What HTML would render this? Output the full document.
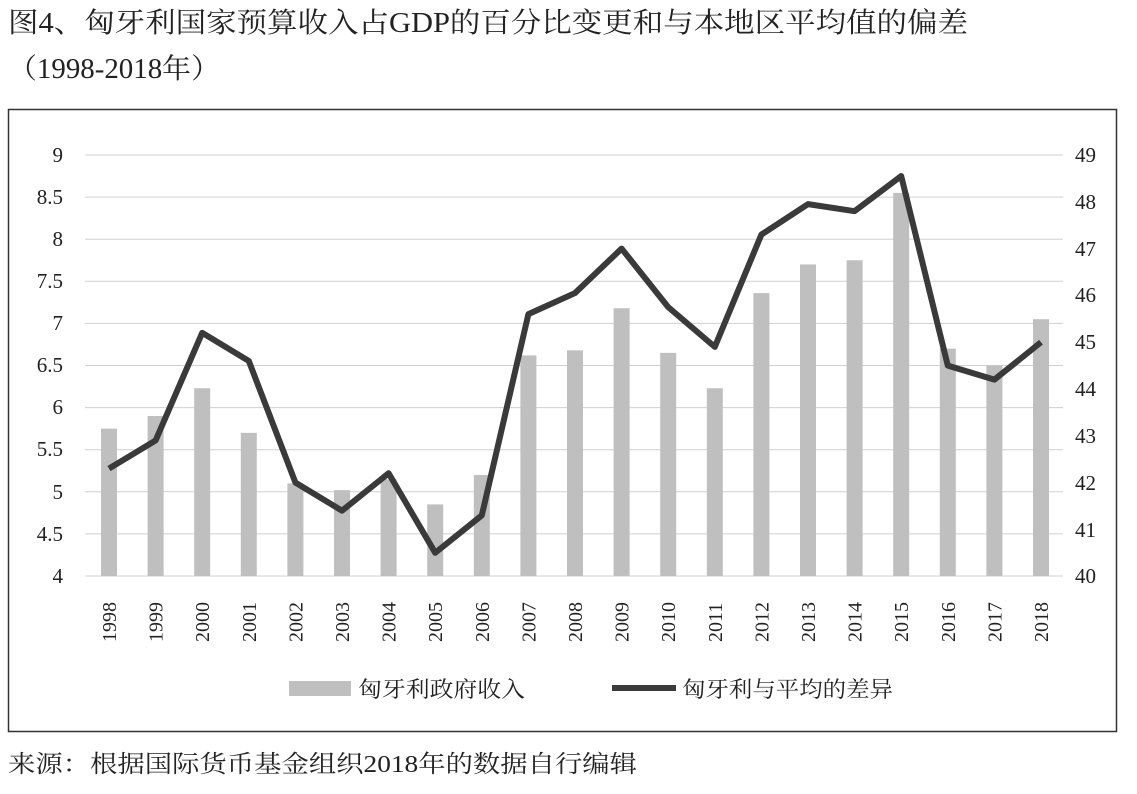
<!DOCTYPE html>
<html><head><meta charset="utf-8"><style>
html,body{margin:0;padding:0;background:#fff;}
svg{display:block;font-family:"Liberation Serif","Noto Serif CJK SC",serif;}
</style></head><body>
<svg width="1137" height="794" viewBox="0 0 1137 794" xmlns="http://www.w3.org/2000/svg">
<text x="8" y="32" font-size="28" fill="#222" textLength="960" lengthAdjust="spacingAndGlyphs">图4、匈牙利国家预算收入占GDP的百分比变更和与本地区平均值的偏差</text>
<text x="8" y="78" font-size="28" fill="#222" textLength="212" lengthAdjust="spacingAndGlyphs">（1998-2018年）</text>
<rect x="8.5" y="109.5" width="1108" height="622" fill="#fff" stroke="#333" stroke-width="1.5"/>
<g stroke="#d0d0d0" stroke-width="1">
<line x1="85" x2="1063" y1="155" y2="155"/><line x1="85" x2="1063" y1="197.1" y2="197.1"/>
<line x1="85" x2="1063" y1="239.2" y2="239.2"/><line x1="85" x2="1063" y1="281.3" y2="281.3"/>
<line x1="85" x2="1063" y1="323.4" y2="323.4"/><line x1="85" x2="1063" y1="365.5" y2="365.5"/>
<line x1="85" x2="1063" y1="407.6" y2="407.6"/><line x1="85" x2="1063" y1="449.7" y2="449.7"/>
<line x1="85" x2="1063" y1="491.8" y2="491.8"/><line x1="85" x2="1063" y1="533.9" y2="533.9"/>
<line x1="85" x2="1063" y1="576" y2="576"/>
</g>
<g font-size="21" fill="#222" text-anchor="end">
<text x="63" y="162">9</text><text x="63" y="204">8.5</text><text x="63" y="246">8</text><text x="63" y="288">7.5</text><text x="63" y="330">7</text><text x="63" y="372">6.5</text><text x="63" y="414">6</text><text x="63" y="456">5.5</text><text x="63" y="499">5</text><text x="63" y="541">4.5</text><text x="63" y="583">4</text>
</g>
<g font-size="21" fill="#222">
<text x="1075" y="162">49</text><text x="1075" y="209">48</text><text x="1075" y="256">47</text><text x="1075" y="302">46</text><text x="1075" y="349">45</text><text x="1075" y="396">44</text><text x="1075" y="443">43</text><text x="1075" y="490">42</text><text x="1075" y="537">41</text><text x="1075" y="583">40</text>
</g>
<g fill="#bfbfbf" id="bars"></g>
<polyline id="ln" fill="none" stroke="#3a3a3a" stroke-width="6" stroke-linejoin="round"/>
<g id="yrs" font-size="20" fill="#222"></g>
<rect x="289" y="681" width="62" height="15" fill="#bfbfbf"/>
<text x="358" y="697" font-size="22" fill="#222" textLength="167" lengthAdjust="spacingAndGlyphs">匈牙利政府收入</text>
<line x1="612" x2="676" y1="688" y2="688" stroke="#3a3a3a" stroke-width="6"/>
<text x="682" y="697" font-size="22" fill="#222" textLength="211" lengthAdjust="spacingAndGlyphs">匈牙利与平均的差异</text>
<text x="8" y="772" font-size="24" fill="#222" textLength="629" lengthAdjust="spacingAndGlyphs">来源：根据国际货币基金组织2018年的数据自行编辑</text>
<script>
var b=[5.75,5.9,6.23,5.7,5.1,5.02,5.15,4.85,5.2,6.62,6.68,7.18,6.65,6.23,7.36,7.7,7.75,8.55,6.7,6.5,7.05];
var l=[42.3,42.9,45.2,44.6,42.0,41.4,42.2,40.5,41.3,45.6,46.05,47.0,45.75,44.9,47.3,47.95,47.8,48.55,44.5,44.2,45.0];
var ns="http://www.w3.org/2000/svg",g=document.getElementById('bars'),yg=document.getElementById('yrs'),pts=[];
for(var i=0;i<21;i++){var x=109+i*46.6;var y=576-(b[i]-4)*84.2;
var r=document.createElementNS(ns,'rect');r.setAttribute('x',x-8);r.setAttribute('y',y);r.setAttribute('width',16);r.setAttribute('height',576-y);g.appendChild(r);
pts.push(x+','+(155+(49-l[i])*46.8));
var t=document.createElementNS(ns,'text');t.setAttribute('transform','translate('+(x+7)+',642) rotate(-90)');t.textContent=1998+i;yg.appendChild(t);}
document.getElementById('ln').setAttribute('points',pts.join(' '));
</script>
</svg>
</body></html>
